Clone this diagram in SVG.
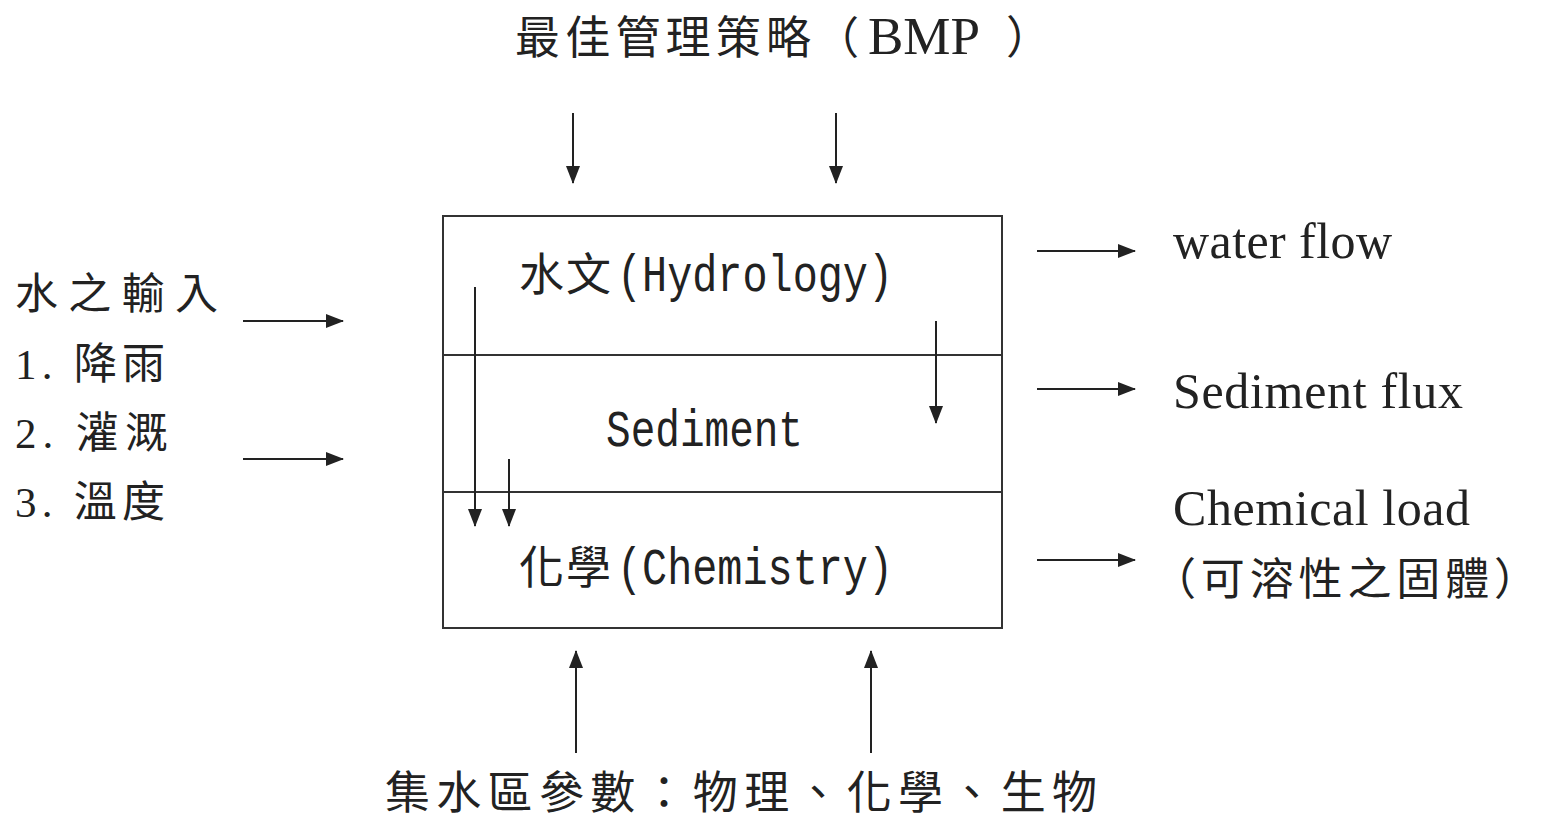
<svg xmlns="http://www.w3.org/2000/svg" width="1541" height="819" viewBox="0 0 1541 819">
<style>
.cjk{font-family:"Liberation Serif","Noto Sans CJK TC",serif;fill:#222;}
.mono{font-family:"Liberation Mono","Noto Sans CJK TC",monospace;fill:#222;}
.tr{font-family:"Liberation Serif","Noto Sans CJK TC",serif;fill:#222;}
.box{fill:#fff;stroke:#333;stroke-width:2;}
.ln{stroke:#333;stroke-width:2;fill:none;}
.arr{stroke:#222;stroke-width:2;fill:none;marker-end:url(#ah);}
</style>
<defs>
<marker id="ah" markerWidth="18" markerHeight="14" refX="17" refY="7" orient="auto" markerUnits="userSpaceOnUse">
<path d="M0,0 L18,7 L0,14 z" fill="#222"/>
</marker>
</defs>
<rect width="1541" height="819" fill="#fff"/>

<g id="title">
<text class="cjk" x="515" y="54" font-size="45" textLength="296" lengthAdjust="spacing">最佳管理策略</text>
<text class="cjk" x="815" y="54" font-size="44">（</text>
<text class="tr" x="868" y="54" font-size="52" textLength="112" lengthAdjust="spacingAndGlyphs">BMP</text>
<text class="cjk" x="1006" y="54" font-size="45">）</text>
</g>

<g id="water-input">
<text class="cjk" x="15" y="309" font-size="43" textLength="203" lengthAdjust="spacing">水之輸入</text>
<text class="cjk" x="15" y="379" font-size="43" textLength="150" lengthAdjust="spacing">1. 降雨</text>
<text class="cjk" x="15" y="448" font-size="43" textLength="153" lengthAdjust="spacing">2. 灌溉</text>
<text class="cjk" x="15" y="517" font-size="43" textLength="150" lengthAdjust="spacing">3. 溫度</text>
</g>

<g id="model-box">
<rect class="box" x="443" y="216" width="559" height="412"/>
<line class="ln" x1="443" y1="355" x2="1002" y2="355"/>
<line class="ln" x1="443" y1="492" x2="1002" y2="492"/>
</g>
<g id="hydrology">
<text class="cjk" x="519" y="291" font-size="45" textLength="92" lengthAdjust="spacing">水文</text>
<text class="mono" x="617" y="291" font-size="52" textLength="276" lengthAdjust="spacingAndGlyphs">(Hydrology)</text>
</g>
<g id="sediment">
<text class="mono" x="606" y="446" font-size="52" textLength="197" lengthAdjust="spacingAndGlyphs">Sediment</text>
</g>
<g id="chemistry">
<text class="cjk" x="519" y="584" font-size="45" textLength="92" lengthAdjust="spacing">化學</text>
<text class="mono" x="617" y="584" font-size="52" textLength="276" lengthAdjust="spacingAndGlyphs">(Chemistry)</text>
</g>

<g id="outputs">
<text class="tr" x="1173" y="258" font-size="50" textLength="219" lengthAdjust="spacing">water flow</text>
<text class="tr" x="1173" y="408" font-size="50" textLength="290" lengthAdjust="spacing">Sediment flux</text>
<text class="tr" x="1173" y="525" font-size="50" textLength="297" lengthAdjust="spacing">Chemical load</text>
<text class="cjk" x="1152" y="595" font-size="44" textLength="386" lengthAdjust="spacing">（可溶性之固體）</text>
</g>

<g id="watershed">
<text class="cjk" x="385" y="809" font-size="45" textLength="712" lengthAdjust="spacing">集水區參數：物理、化學、生物</text>
</g>

<g id="connectors">
<line class="arr" x1="573" y1="113" x2="573" y2="183"/>
<line class="arr" x1="836" y1="113" x2="836" y2="183"/>
<line class="arr" x1="243" y1="321" x2="343" y2="321"/>
<line class="arr" x1="243" y1="459" x2="343" y2="459"/>
<line class="arr" x1="1037" y1="251" x2="1135" y2="251"/>
<line class="arr" x1="1037" y1="389" x2="1135" y2="389"/>
<line class="arr" x1="1037" y1="560" x2="1135" y2="560"/>
<line class="arr" x1="475" y1="287" x2="475" y2="526"/>
<line class="arr" x1="509" y1="459" x2="509" y2="526"/>
<line class="arr" x1="936" y1="321" x2="936" y2="423"/>
<line class="arr" x1="576" y1="753" x2="576" y2="651"/>
<line class="arr" x1="871" y1="753" x2="871" y2="651"/>
</g>
</svg>
